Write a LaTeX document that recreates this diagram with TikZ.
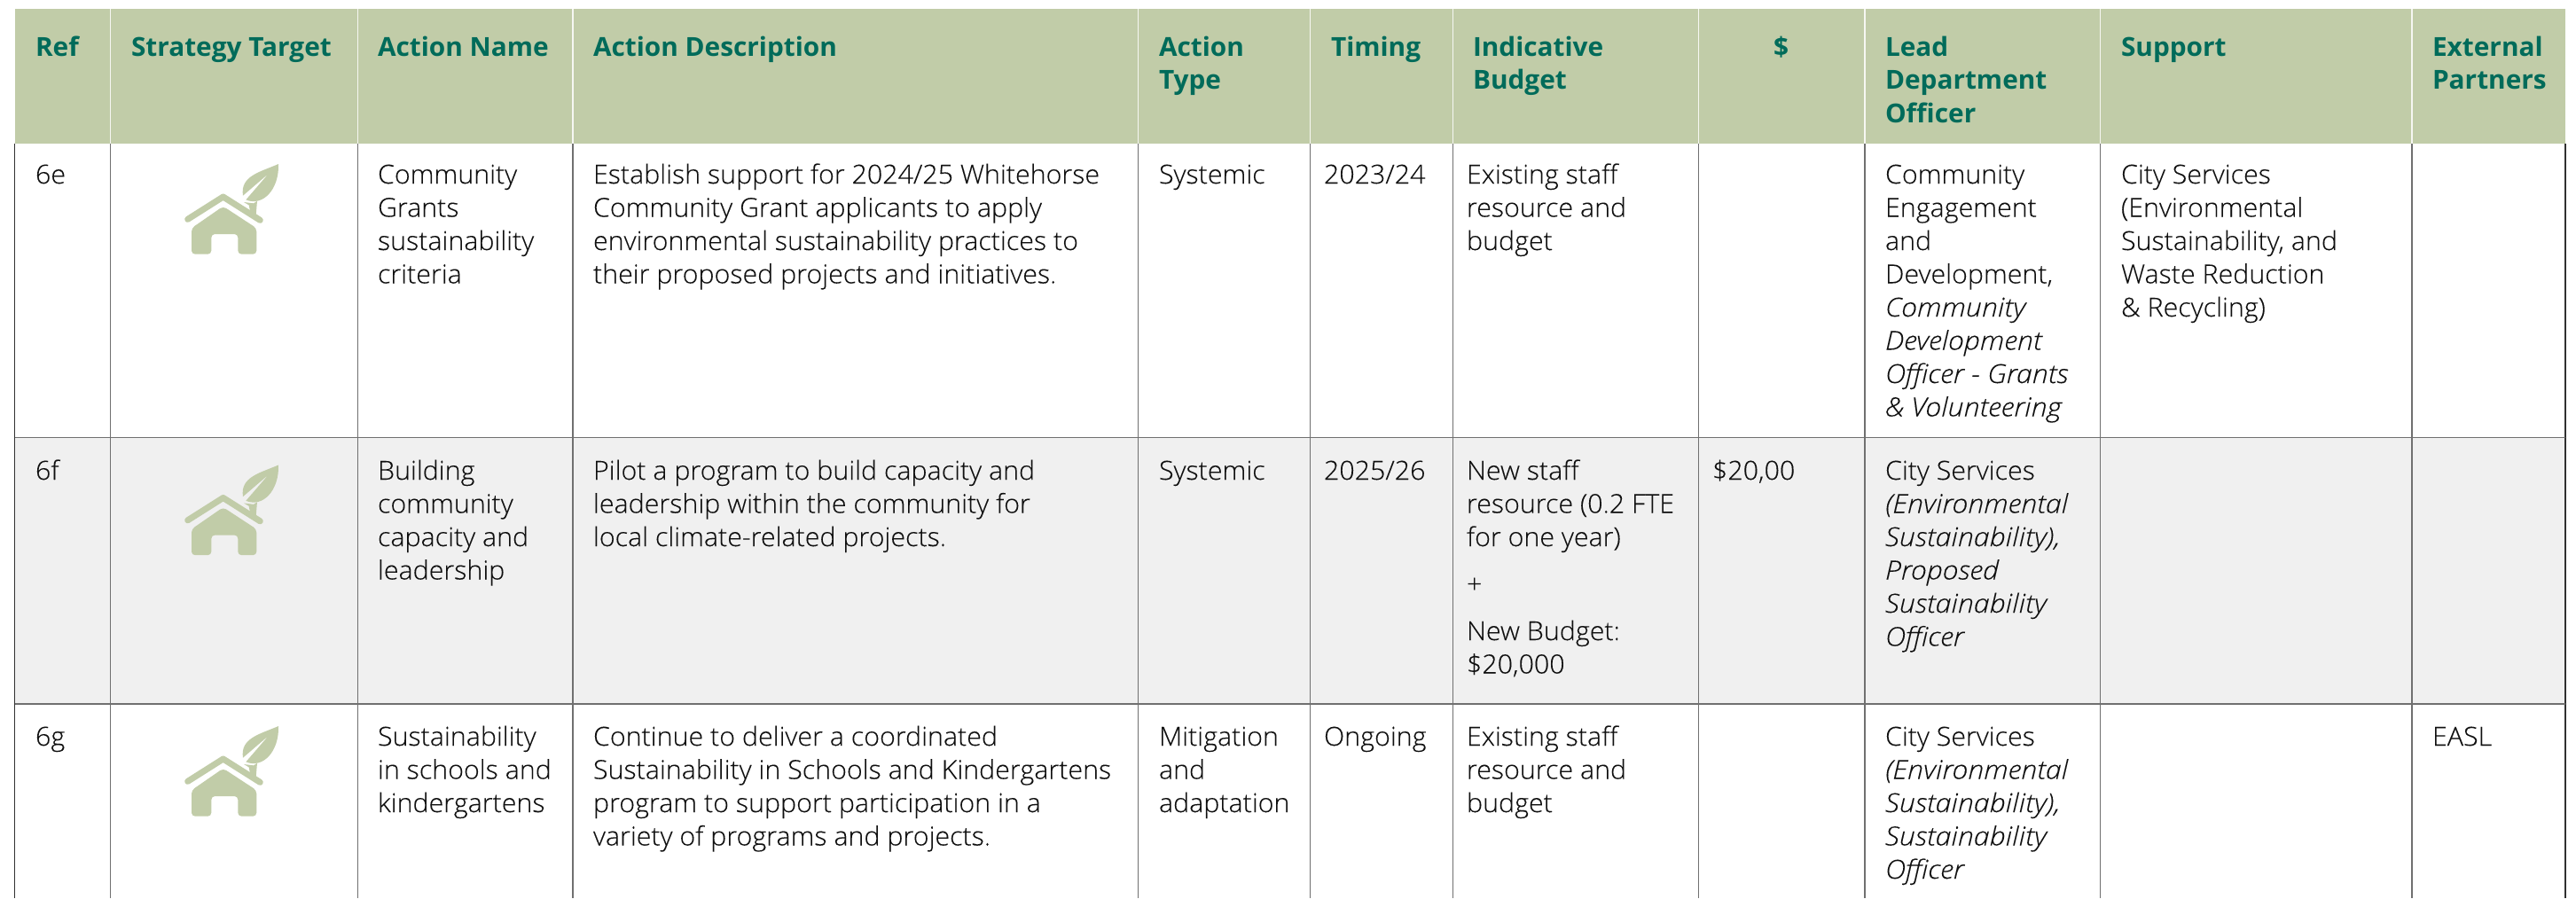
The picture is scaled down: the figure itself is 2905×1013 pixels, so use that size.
\documentclass[tikz,border=0pt]{standalone}
\usepackage{fontspec}
\setmainfont{Open Sans Light}[FakeStretch=1.03,FakeBold=0.12,ItalicFont={Open Sans Light Italic},ItalicFeatures={FakeStretch=1.09}]
\newfontfamily\hdrfont{Open Sans Bold}[FakeStretch=1.01]
\definecolor{hdrfill}{HTML}{C1CCA8}
\definecolor{hdrtext}{HTML}{006B5A}
\definecolor{rowgrey}{HTML}{F0F0F0}
\definecolor{rule}{HTML}{707070}
\definecolor{edge}{HTML}{303030}
\definecolor{body}{HTML}{101010}
\newcommand{\st}{\rule{0pt}{27pt}}
\tikzset{
  x=1pt,y=-1pt,
  cell/.style={anchor=north west,inner sep=0pt,outer sep=0pt,align=left,text=body,
    font=\fontsize{29.5}{37.5}\selectfont},
  headcell/.style={cell,text=hdrtext,font=\hdrfont\fontsize{29.5}{37.5}\selectfont},
  grid/.style={draw=rule,line width=1.8pt},
  borderline/.style={draw=edge,line width=1.5pt},
  headsep/.style={draw=white!85!hdrfill,line width=1.8pt},
  iconpic/.pic={
    \fill[hdrfill,rounded corners=4pt] (108,262) -- (215,188) -- (328,262) -- (328,350) -- (265,350) -- (265,282) -- (175,282) -- (175,350) -- (108,350) -- cycle;
    \draw[hdrfill,line width=7pt,line cap=round,line join=round] (95,232) -- (215,156) -- (340,235);
    \fill[hdrfill] (402,45) .. controls (340,72) and (272,85) .. (282,152) -- (368,78) -- (292,166) .. controls (350,190) and (405,130) .. (402,45) -- cycle;
    \fill[hdrfill] (285,174) -- (318,178) -- (330,170) -- (326,218) -- (306,204) -- (302,184) -- cycle;
  }
}
\begin{document}
\begin{tikzpicture}
\useasboundingbox (0,0) rectangle (2905,1013);
% band fills
\fill[hdrfill] (16.5,10) rectangle (2893,162);
\fill[rowgrey] (16.5,494) rectangle (2893,794);
% grid
\foreach \cx in {124.5,403.5,646,1283.5,1477.5,1638.5,1915.5,2103,2368.5,2720}
  \draw[grid] (\cx,162) -- (\cx,1013);
\draw[borderline] (16.5,162) -- (16.5,1013);
\draw[borderline] (2893,162) -- (2893,1013);
\foreach \cx in {124.5,403.5,646,1283.5,1477.5,1638.5,1915.5,2103,2368.5,2720}
  \draw[headsep] (\cx,10) -- (\cx,162);
\draw[grid] (16.5,493.5) -- (2893,493.5);
\draw[grid] (16.5,794) -- (2893,794);
% icons
\foreach \dy in {0,339.5,634}
  \pic[xscale=1/3,yscale=1/3] at (180,170+\dy) {iconpic};
% header
\node[headcell] (h1) at (40,36) {\st Ref};
\node[headcell] (h2) at (148,36) {\st Strategy Target};
\node[headcell] (h3) at (426,36) {\st Action Name};
\node[headcell] (h4) at (669,36) {\st Action Description};
\node[headcell] (h5) at (1307,36) {\st Action\\Type};
\node[headcell] (h6) at (1501,36) {\st Timing};
\node[headcell] (h7) at (1661,36) {\st Indicative\\Budget};
\node[headcell] (h8) at (2000,36) {\st \$};
\node[headcell] (h9) at (2126,36) {\st Lead\\Department\\Officer};
\node[headcell] (h10) at (2392,36) {\st Support};
\node[headcell] (h11) at (2743,36) {\st External\\Partners};
% row 6e
\node[cell] (a1) at (40,180) {\st 6e};
\node[cell] (a3) at (426,180) {\st Community\\Grants\\sustainability\\criteria};
\node[cell] (a4) at (669,180) {\st Establish support for 2024/25 Whitehorse\\Community Grant applicants to apply\\environmental sustainability practices to\\their proposed projects and initiatives.};
\node[cell] (a5) at (1307,180) {\st Systemic};
\node[cell] (a6) at (1493,180) {\st 2023/24};
\node[cell] (a7) at (1654,180) {\st Existing staff\\resource and\\budget};
\node[cell] (a9) at (2126,180) {\st Community\\Engagement\\and\\Development,\\\textit{Community}\\\textit{Development}\\\textit{Officer - Grants}\\\textit{\& Volunteering}};
\node[cell] (a10) at (2392,180) {\st City Services\\(Environmental\\Sustainability, and\\Waste Reduction\\\& Recycling)};
% row 6f
\node[cell] (b1) at (40,514) {\st 6f};
\node[cell] (b3) at (426,514) {\st Building\\community\\capacity and\\leadership};
\node[cell] (b4) at (669,514) {\st Pilot a program to build capacity and\\leadership within the community for\\local climate-related projects.};
\node[cell] (b5) at (1307,514) {\st Systemic};
\node[cell] (b6) at (1493,514) {\st 2025/26};
\node[cell] (b7) at (1654,514) {\st New staff\\resource (0.2 FTE\\for one year)\\[15.5pt]+\\[15.5pt]New Budget:\\\$20,000};
\node[cell] (b8) at (1931,514) {\st \$20,00};
\node[cell] (b9) at (2126,514) {\st City Services\\\textit{(Environmental}\\\textit{Sustainability),}\\\textit{Proposed}\\\textit{Sustainability}\\\textit{Officer}};
% row 6g
\node[cell] (c1) at (40,814) {\st 6g};
\node[cell] (c3) at (426,814) {\st Sustainability\\in schools and\\kindergartens};
\node[cell] (c4) at (669,814) {\st Continue to deliver a coordinated\\Sustainability in Schools and Kindergartens\\program to support participation in a\\variety of programs and projects.};
\node[cell] (c5) at (1307,814) {\st Mitigation\\and\\adaptation};
\node[cell] (c6) at (1493,814) {\st Ongoing};
\node[cell] (c7) at (1654,814) {\st Existing staff\\resource and\\budget};
\node[cell] (c9) at (2126,814) {\st City Services\\\textit{(Environmental}\\\textit{Sustainability),}\\\textit{Sustainability}\\\textit{Officer}};
\node[cell] (c11) at (2743,814) {\st EASL};
\end{tikzpicture}
\end{document}
